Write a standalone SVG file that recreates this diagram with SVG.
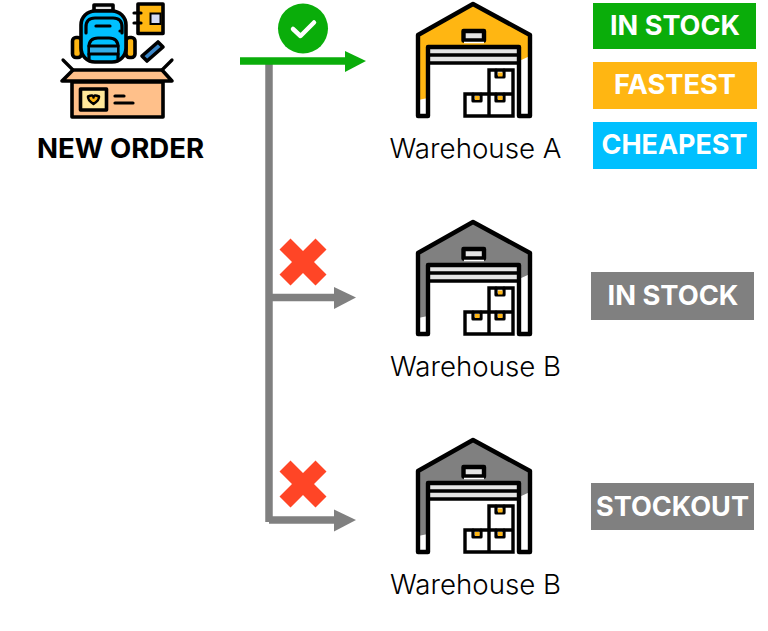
<svg xmlns="http://www.w3.org/2000/svg" width="768" height="631" viewBox="0 0 768 631">
<style>
.ink{fill:none;stroke:#000;stroke-width:3.2;stroke-linejoin:round;stroke-linecap:round}
.inkf{stroke:#000;stroke-width:3.6;stroke-linejoin:round;stroke-linecap:round}
.wall{fill:none;stroke:#000;stroke-width:4.400;stroke-linejoin:round;stroke-linecap:round}
.bar{fill:none;stroke:#000;stroke-width:3.400}
.tag{font:700 27px "Inter","Liberation Sans",sans-serif;fill:#fff;text-anchor:middle}
.name{font:300 27.500px "Inter","Liberation Sans",sans-serif;fill:#000;text-anchor:middle}
.flow{fill:none;stroke:#808080;stroke-width:7.5}
</style>
<defs>
<g id="warehouse">
<path fill="currentColor" d="M418 100V35L473 5L530 35V56L519 61V47H428V98Z"/>
<path d="M428 48H519V62H428Z" fill="#e4e4e4"/>
<rect x="464" y="31.500" width="20" height="9" fill="#e4e4e4"/>
<path class="wall" d="M418 116V35L473 4L530 35V116H519V47H428V116Z"/>
<path class="bar" d="M428 55H519M428 63H519"/>
<rect class="wall" x="463.500" y="31" width="20.500" height="9.500"/>
<path d="M464 42.500H484" stroke="#fff" stroke-width="1.500"/>
<path class="bar" d="M489 93V70H513V116H465V94H513M489 94V116"/>
<path class="ink" d="M496 70V77H504V70M473 94V101H481V94M496 94V101H504V94"/>
<rect x="498" y="72.500" width="4.500" height="4" fill="#ffb612"/>
<rect x="475" y="96" width="4.500" height="4" fill="#ffb612"/>
<rect x="498" y="96" width="4.500" height="4" fill="#ffb612"/>
</g>
<path id="cross" fill="#ff4526" d="M-12.500 -23.500L0 -11L12.500 -23.500L23.500 -12.500L11 0L23.500 12.500L12.500 23.500L0 11L-12.500 23.500L-23.500 12.500L-11 0L-23.500 -12.500Z"/>
</defs>

<g id="connectors">
<path class="flow" d="M269 61V522"/>
<path class="flow" d="M269 297.500H336"/>
<path d="M334 287L356 297.500L334 309Z" fill="#808080"/>
<path class="flow" d="M269 520H336"/>
<path d="M334 509.500L356 520L334 531.500Z" fill="#808080"/>
<path d="M240 61H346" fill="none" stroke="#0aad0a" stroke-width="7.500"/>
<path d="M345 51L366 61L345 72Z" fill="#0aad0a"/>
</g>

<g id="new-order">
<rect class="inkf" x="94" y="5" width="19" height="6" fill="#e4e4e4"/>
<rect class="inkf" x="72.500" y="37.500" width="9" height="20" rx="3.500" fill="#ffb612"/>
<rect class="inkf" x="126" y="37.500" width="9" height="20" rx="3.500" fill="#ffb612"/>
<rect class="inkf" x="81" y="11" width="45" height="51" rx="14" fill="#00c0ff"/>
<path class="ink" d="M86 33V27Q86 18 95 18H113Q122 18 122 27V33"/>
<path class="ink" d="M96 26H110"/>
<circle cx="120" cy="31" r="1.600" fill="#000"/>
<path class="ink" d="M89 60V47Q89 38 98 38H109Q118 38 118 47V60"/>
<path d="M90 46H117V54H90Z" fill="#33aee8"/>
<path class="ink" stroke-width="2.600" d="M89 46H118M89 54H118"/>
<rect class="inkf" x="138" y="4" width="25" height="29.500" fill="#ffb612"/>
<rect x="150.500" y="13.500" width="10" height="10.500" fill="#d5dcf5" stroke="#000" stroke-width="2"/>
<path class="ink" d="M134 13H141M134 23H141"/>
<path class="inkf" fill="#3a86c8" stroke-width="3.200" d="M142 56L158 42L163 47L147 61Z"/>
<path class="inkf" fill="#ffc08a" d="M72 82V117H163V82Z"/>
<path class="inkf" fill="#ffc08a" d="M73 70H162L172 81H62Z"/>
<path class="ink" d="M63 60L73 70M172 60L162 70"/>
<rect class="inkf" x="80.500" y="89" width="26" height="21" fill="#ffe89a"/>
<path d="M88 96.500Q93.500 94 93.500 97.500Q93.500 94 99 96.500Q99.500 100 93.500 104Q87.500 100 88 96.500Z" fill="#ffb612" stroke="#000" stroke-width="2.500" stroke-linejoin="round"/>
<path class="ink" d="M115 96H124M115 103H133"/>
<text x="120.500" y="158" textLength="167" lengthAdjust="spacingAndGlyphs" style="font:700 27px 'Inter','Liberation Sans',sans-serif;fill:#000;text-anchor:middle">NEW ORDER</text>
</g>

<g id="ok-mark">
<circle cx="303" cy="28.500" r="25" fill="#0aad0a"/>
<path d="M293 29L300.500 36L314 22.500" fill="none" stroke="#fff" stroke-width="4.500" stroke-linecap="round" stroke-linejoin="round"/>
</g>
<g id="reject-b1"><use href="#cross" x="303" y="262"/></g>
<g id="reject-b2"><use href="#cross" x="303" y="484"/></g>

<g id="warehouse-a" color="#ffb612">
<use href="#warehouse"/>
<text class="name" x="475.500" y="158" textLength="172" lengthAdjust="spacingAndGlyphs">Warehouse A</text>
</g>
<g id="warehouse-b1" color="#808080">
<use href="#warehouse" y="218"/>
<text class="name" x="475.500" y="376" textLength="171" lengthAdjust="spacingAndGlyphs">Warehouse B</text>
</g>
<g id="warehouse-b2" color="#808080">
<use href="#warehouse" y="436"/>
<text class="name" x="475.500" y="594" textLength="171" lengthAdjust="spacingAndGlyphs">Warehouse B</text>
</g>

<g id="tag-in-stock-a"><rect x="593" y="3" width="163" height="46" fill="#0aad0a"/><text class="tag" x="675" y="35" textLength="130" lengthAdjust="spacingAndGlyphs">IN STOCK</text></g>
<g id="tag-fastest"><rect x="593" y="62" width="164" height="47" fill="#ffb612"/><text class="tag" x="675" y="94" textLength="122" lengthAdjust="spacingAndGlyphs">FASTEST</text></g>
<g id="tag-cheapest"><rect x="593" y="122" width="164" height="47" fill="#00c0ff"/><text class="tag" x="674.500" y="154" textLength="146" lengthAdjust="spacingAndGlyphs">CHEAPEST</text></g>
<g id="tag-in-stock-b"><rect x="591" y="272" width="163" height="48" fill="#808080"/><text class="tag" x="673" y="305" textLength="131" lengthAdjust="spacingAndGlyphs">IN STOCK</text></g>
<g id="tag-stockout"><rect x="591" y="483" width="163" height="47" fill="#808080"/><text class="tag" x="672.500" y="516" textLength="153" lengthAdjust="spacingAndGlyphs">STOCKOUT</text></g>
</svg>
